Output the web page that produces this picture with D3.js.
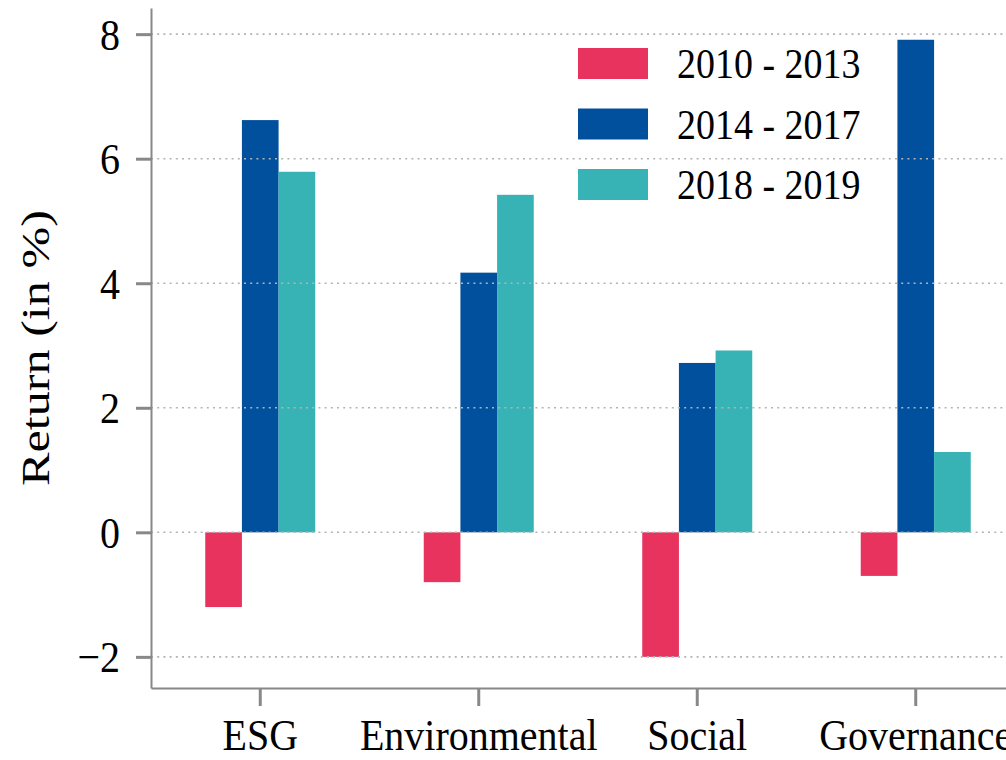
<!DOCTYPE html>
<html>
<head>
<meta charset="utf-8">
<script src="https://cdn.jsdelivr.net/npm/d3@7"></script>
<style>
  body { margin: 0; background: #fff; }
  svg { display: block; overflow: hidden; }
  text { font-family: "Liberation Serif", serif; fill: #000; }
</style>
</head>
<body>
<svg id="chart" width="1006" height="760"></svg>
<script>
var categories = ['ESG', 'Environmental', 'Social', 'Governance'];
var periods = ['2010 - 2013', '2014 - 2017', '2018 - 2019'];
var colors = ['#e8335e', '#00509d', '#38b3b5'];
// returns in %, one array per period, same order as categories
var p2010 = [-1.2, -0.8, -2.0, -0.7];
var p2014 = [6.62, 4.17, 2.72, 7.91];
var p2018 = [5.79, 5.42, 2.92, 1.29];
var yTicks = [-2, 0, 2, 4, 6, 8];

var series = [p2010, p2014, p2018];
var stretch = 1.12; // text in the reference is a bit taller than wide

var margin = {left: 151, top: 8, bottom: 688, right: 1025};
var svg = d3.select('#chart');

var x = d3.scaleBand().domain(categories).range([margin.left, margin.right]);
var inner = d3.scaleBand().domain(periods).range([-55, 55]);
var y = d3.scaleLinear().domain([-2.5, 8.42]).range([margin.bottom, margin.top]);

// bars
var rows = [];
periods.forEach(function (p, j) {
  categories.forEach(function (c, i) {
    rows.push({cat: c, period: p, value: series[j][i], color: colors[j]});
  });
});

svg.append('g').selectAll('rect')
  .data(rows)
  .enter().append('rect')
  .attr('x', function (d) { return x(d.cat) + x.bandwidth() / 2 + inner(d.period); })
  .attr('width', inner.bandwidth())
  .attr('y', function (d) { return y(Math.max(0, d.value)); })
  .attr('height', function (d) { return Math.abs(y(d.value) - y(0)); })
  .style('fill', function (d) { return d.color; });

// grid on top of the bars
svg.append('g').selectAll('line')
  .data(yTicks)
  .enter().append('line')
  .attr('x1', margin.left)
  .attr('x2', 1006)
  .attr('y1', function (d) { return y(d); })
  .attr('y2', function (d) { return y(d); })
  .style('stroke', '#b3b3b3')
  .style('stroke-width', 1.6)
  .style('stroke-dasharray', '2,4.2');

// y axis
var yAxis = svg.append('g')
  .attr('transform', 'translate(' + margin.left + ',0)')
  .call(d3.axisLeft(y).tickValues(yTicks).tickSize(15).tickSizeOuter(0).tickPadding(16));

// x axis
var xAxis = svg.append('g')
  .attr('transform', 'translate(0,' + margin.bottom + ')')
  .call(d3.axisBottom(x).tickSize(18).tickSizeOuter(0));

[yAxis, xAxis].forEach(function (g) {
  g.select('.domain').style('stroke', '#888').style('stroke-width', 2);
  g.selectAll('.tick line').style('stroke', '#888').style('stroke-width', 3);
  g.selectAll('.tick text')
    .style('font-family', '"Liberation Serif", serif')
    .style('font-size', '40px')
    .style('fill', '#000');
});

yAxis.selectAll('.tick text')
  .attr('dy', null)
  .attr('y', 15 / stretch)
  .attr('transform', 'scale(1,' + stretch + ')');

xAxis.selectAll('.tick text')
  .attr('dy', null)
  .attr('y', 62 / stretch)
  .attr('transform', 'scale(1,' + stretch + ')');

// y label
svg.append('text')
  .attr('transform', 'translate(49,' + ((margin.top + margin.bottom) / 2) + ') rotate(-90)')
  .attr('text-anchor', 'middle')
  .attr('textLength', 276)
  .attr('lengthAdjust', 'spacingAndGlyphs')
  .style('font-size', '39px')
  .text('Return (in %)');

// legend
var legend = svg.append('g').selectAll('g')
  .data(periods)
  .enter().append('g')
  .attr('transform', function (d, i) { return 'translate(578,' + (48 + i * 60.5) + ')'; });

legend.append('rect')
  .attr('width', 70)
  .attr('height', 31)
  .style('fill', function (d, i) { return colors[i]; });

legend.append('text')
  .attr('transform', 'translate(99,30) scale(1,' + stretch + ')')
  .style('font-size', '38px')
  .text(function (d) { return d; });
</script>
</body>
</html>
